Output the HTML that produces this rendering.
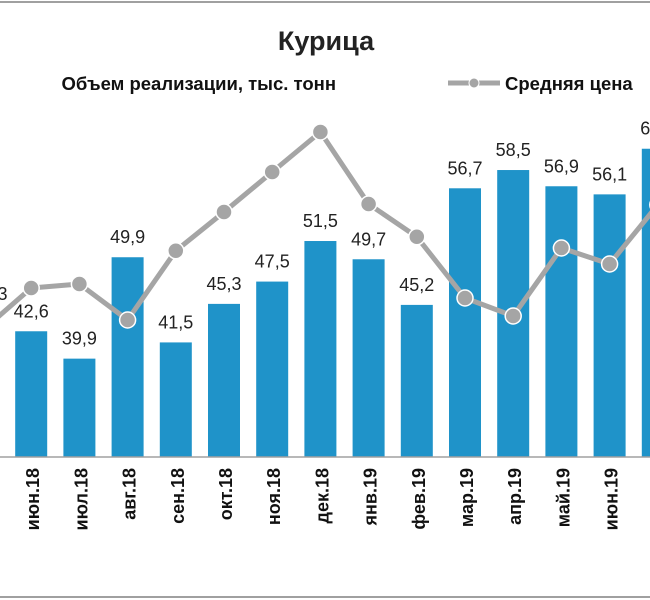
<!DOCTYPE html>
<html><head><meta charset="utf-8"><style>
body{margin:0;background:#fff}
svg{display:block;font-family:"Liberation Sans",sans-serif}
</style></head><body>
<svg id="c" width="650" height="600" viewBox="0 0 650 600">
<rect x="0" y="0" width="650" height="600" fill="#fff"/>
<line x1="0" y1="2" x2="650" y2="2" stroke="#a0a0a0" stroke-width="2"/>
<line x1="0" y1="597" x2="650" y2="597" stroke="#a0a0a0" stroke-width="2"/>
<text x="326" y="50" text-anchor="middle" font-size="27" font-weight="bold" fill="#222">Курица</text>
<text x="336" y="90" text-anchor="end" font-size="18.5" font-weight="bold" fill="#111">Объем реализации, тыс. тонн</text>
<g>
<line x1="448" y1="83" x2="500" y2="83" stroke="#a5a5a5" stroke-width="5"/>
<circle cx="474" cy="83" r="5" fill="#a5a5a5" stroke="#fff" stroke-width="1"/>
<text x="505" y="90" font-size="18.5" font-weight="bold" fill="#111">Средняя цена</text>
</g>
<g id="bars"></g><g id="line"></g><g id="labels"></g><g id="xl"></g>
<line x1="0" y1="457" x2="650" y2="457" stroke="#a0a0a0" stroke-width="1.5"/>
</svg>
<script>
const categories=["май.18","июн.18","июл.18","авг.18","сен.18","окт.18","ноя.18","дек.18","янв.19","фев.19","мар.19","апр.19","май.19","июн.19","июл.19"];
const volume=[44.3,42.6,39.9,49.9,41.5,45.3,47.5,51.5,49.7,45.2,56.7,58.5,56.9,56.1,60.6];
const volumeLabels=["44,3","42,6","39,9","49,9","41,5","45,3","47,5","51,5","49,7","45,2","56,7","58,5","56,9","56,1","60,6"];
const price=[67.5,78,79,70,87.3,97,107,117,99,90.8,75.5,71,88,84,98.8];
const NS="http://www.w3.org/2000/svg";
const x=i=>-17+48.2*i, yV=v=>457-10.14*(v-30.2), yP=p=>600-4*p;
function mk(t,a,p){const e=document.createElementNS(NS,t);for(const k in a)e.setAttribute(k,a[k]);document.getElementById(p).appendChild(e);return e;}
categories.forEach((c,i)=>{
 const b=mk("rect",{x:x(i)-16,y:yV(volume[i]),width:32,height:457-yV(volume[i]),fill:"#1f93c9"},"bars");
 
 
 const t=mk("text",{x:x(i)+(i===0?7:0),y:yV(volume[i])-14,"text-anchor":"middle","font-size":"18",fill:"#222"},"labels");
 t.textContent=volumeLabels[i];
 
 
 const xt=mk("text",{transform:`translate(${x(i)+8},468) rotate(-90)`,"text-anchor":"end","font-size":"18","font-weight":"bold",fill:"#111"},"xl");
 xt.textContent=c;
 
 
});
const pl=mk("polyline",{points:price.map((p,i)=>x(i)+","+yP(p)).join(" "),fill:"none",stroke:"#a5a5a5","stroke-width":"5","stroke-linejoin":"round"},"line");


price.forEach((p,i)=>{
 const m=mk("circle",{cx:x(i),cy:yP(p),r:8,fill:"#a5a5a5",stroke:"#fff","stroke-width":"1.5"},"line");
 
 
});
</script>
</body></html>
